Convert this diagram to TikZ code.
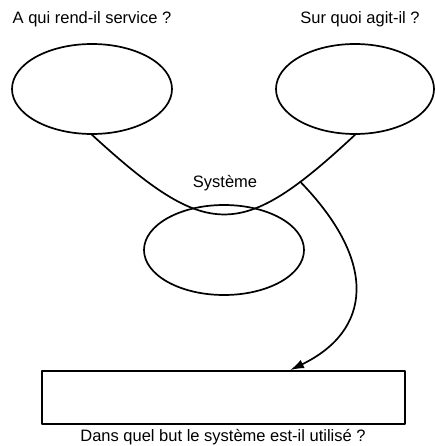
\documentclass[tikz,border=0pt]{standalone}
\usepackage{fontspec}
\setmainfont{Liberation Sans}
\usetikzlibrary{shapes.geometric,arrows.meta}
\tikzset{
  base/.style={draw=black, line width=1.7pt, line cap=round, line join=round},
  ell/.style={base, ellipse, minimum width=160pt, minimum height=90pt, inner sep=0pt},
  box/.style={base, rectangle, minimum width=363pt, minimum height=53pt, inner sep=0pt},
  lab/.style={font=\fontsize{16.5}{19}\selectfont, anchor=base, inner sep=0pt},
}
\begin{document}
\begin{tikzpicture}[x=1pt,y=-1pt]
  \useasboundingbox (0,0) rectangle (435,446);
  \node[ell] (qui) at (92,89) {};
  \node[ell,minimum width=158pt] (quoi) at (355,89) {};
  \node[ell] (sys) at (224,250) {};
  \node[box] (but) at (223.5,397.5) {};
  \node[lab] (tqui) at (92,24) {A qui rend-il service ?};
  \node[lab] (tquoi) at (360,24) {Sur quoi agit-il ?};
  \node[lab] (tsys) at (225,187) {Système};
  \node[lab] (tbut) at (223,441) {Dans quel but le système est-il utilisé ?};
  \draw[base] (qui.south) .. controls (208,241) and (241,241) .. coordinate[pos=0.82] (branch) (quoi.south);
  \draw[base,-{Latex[length=14pt,width=9pt]}] (branch) .. controls (379,263) and (371,331) .. ([xshift=66.5pt]but.north);
\end{tikzpicture}
\end{document}
